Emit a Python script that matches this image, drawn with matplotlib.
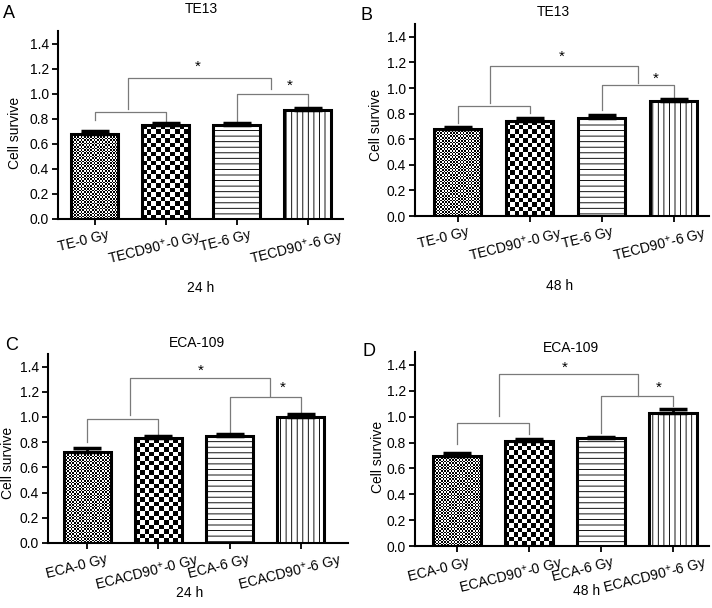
import numpy as np
import matplotlib
matplotlib.use("Agg")
import matplotlib.pyplot as plt
from matplotlib.transforms import ScaledTranslation

plt.rcParams['font.family'] = ['Liberation Sans', 'DejaVu Sans']
plt.rcParams['mathtext.fontset'] = 'custom'
plt.rcParams['mathtext.rm'] = 'Liberation Sans'
plt.rcParams['mathtext.it'] = 'Liberation Sans'
plt.rcParams['hatch.linewidth'] = 0.65
plt.rcParams['hatch.color'] = '#222222'

# Data
te_labels = ["TE-0 Gy", "TECD90$^{+}$-0 Gy", "TE-6 Gy", "TECD90$^{+}$-6 Gy"]
eca_labels = ["ECA-0 Gy", "ECACD90$^{+}$-0 Gy", "ECA-6 Gy", "ECACD90$^{+}$-6 Gy"]

te_24_mean = [0.680, 0.749, 0.749, 0.872]
te_24_err = [0.021, 0.019, 0.019, 0.013]
te_48_mean = [0.678, 0.743, 0.769, 0.899]
te_48_err = [0.018, 0.024, 0.018, 0.013]
eca_24_mean = [0.724, 0.832, 0.850, 0.997]
eca_24_err = [0.031, 0.015, 0.013, 0.027]
eca_48_mean = [0.694, 0.810, 0.834, 1.026]
eca_48_err = [0.028, 0.016, 0.010, 0.034]

# brackets: (x_left, x_right, top, left_leg_bottom, right_leg_bottom)
te_24_brackets = [(0, 1, 0.851, 0.79, 0.773), (2, 3, 0.995, 0.781, 0.899), (0.47, 2.49, 1.128, 0.877, 1.037)]
te_48_brackets = [(0, 1, 0.858, 0.727, 0.806), (2, 3, 1.027, 0.826, 0.930), (0.45, 2.5, 1.170, 0.879, 1.040)]
eca_24_brackets = [(0, 1, 0.984, 0.800, 0.853), (2, 3, 1.155, 0.868, 1.037), (0.6, 2.57, 1.308, 1.018, 1.163)]
eca_48_brackets = [(0, 1, 0.951, 0.785, 0.868), (2, 3, 1.161, 0.873, 1.083), (0.58, 2.51, 1.327, 1.005, 1.161)]

# asterisks: (x, y)
te_24_stars = [(1.45, 1.213), (2.75, 1.061)]
te_48_stars = [(1.45, 1.247), (2.75, 1.069)]
eca_24_stars = [(1.6, 1.368), (2.75, 1.229)]
eca_48_stars = [(1.5, 1.380), (2.8, 1.226)]

W, H = 712, 608
fig = plt.figure(figsize=(W / 100, H / 100), dpi=100)


def px_axes(x0, x1, y_top, y_bottom):
    return fig.add_axes([x0 / W, 1 - y_bottom / H, (x1 - x0) / W, (y_bottom - y_top) / H])


def checker_bar(ax, bar, xc, w, h, cell):
    fig.canvas.draw()
    p0 = ax.transData.transform((0, 0))
    p1 = ax.transData.transform((1, 1))
    pxx, pxy = p1[0] - p0[0], p1[1] - p0[1]
    cols = max(1, int(round(w * pxx / cell)))
    rows = max(1, int(round(h * pxy / cell)))
    board = np.indices((rows, cols)).sum(axis=0) % 2
    im = ax.imshow(board, cmap='gray', extent=(xc - w / 2, xc + w / 2, 0, h),
                   aspect='auto', interpolation='nearest', zorder=2, vmin=0, vmax=1)
    im.set_clip_path(bar)


def panel(rect, xlim, labels, means, errs, brackets, stars, title, letter, letter_pos,
          title_pos, time_label, time_pos, ylab_pos, label_shift=-11):
    ax = px_axes(*rect)
    x = np.arange(len(means))
    w = 0.66
    ax.set_xlim(*xlim)
    ax.set_ylim(0, 1.5)

    bars = []
    for i in range(len(means)):
        hatch = [None, None, '---', '|||'][i]
        fc = 'none' if i < 2 else 'white'
        b = ax.bar(x[i], means[i], width=w, facecolor=fc, edgecolor='black',
                   linewidth=2.2, hatch=hatch, zorder=3)[0]
        bars.append(b)
    checker_bar(ax, bars[0], x[0], w, means[0], 1.6)
    checker_bar(ax, bars[1], x[1], w, means[1], 4.5)
    ax.set_xlim(*xlim)
    ax.set_ylim(0, 1.5)

    ax.errorbar(x, means, yerr=[np.zeros(len(errs)), errs], fmt='none', ecolor='black',
                elinewidth=2, capsize=10, capthick=2.5, zorder=4)

    for xl, xr, top, lb, rb in brackets:
        ax.plot([xl, xl, xr, xr], [lb, top, top, rb], color='#7a7a7a', lw=0.9, zorder=1)
    for sx, sy in stars:
        ax.text(sx, sy, '*', ha='center', va='center', fontsize=11)

    ax.spines['top'].set_visible(False)
    ax.spines['right'].set_visible(False)
    ax.spines['left'].set_linewidth(1.5)
    ax.spines['bottom'].set_linewidth(1.5)
    ax.set_yticks(np.arange(0, 1.41, 0.2))
    ax.set_yticklabels([f"{v:.1f}" for v in np.arange(0, 1.41, 0.2)])
    ax.set_xticks(x)
    ax.set_xticklabels(labels, rotation=14, ha='center')
    ax.tick_params(axis='both', direction='out', length=4.5, width=1.3, labelsize=10, pad=2)
    shift = ScaledTranslation(label_shift / 100, 0, fig.dpi_scale_trans)
    for lab in ax.get_xticklabels():
        lab.set_transform(lab.get_transform() + shift)

    fig.text(ylab_pos[0] / W, 1 - ylab_pos[1] / H, 'Cell survive', rotation=90,
             ha='center', va='center', fontsize=10)
    fig.text(title_pos[0] / W, 1 - title_pos[1] / H, title, ha='center', va='center', fontsize=10)
    fig.text(letter_pos[0] / W, 1 - letter_pos[1] / H, letter, ha='center', va='center', fontsize=13)
    fig.text(time_pos[0] / W, 1 - time_pos[1] / H, time_label, ha='center', va='center', fontsize=10)
    return ax


panel((58, 343, 31, 219), (-0.52, 3.5), te_labels, te_24_mean, te_24_err, te_24_brackets,
      te_24_stars, 'TE13', 'A', (9, 14), (201, 9), '24 h', (201, 288), (15, 133))
panel((415, 709, 24, 216), (-0.59, 3.49), te_labels, te_48_mean, te_48_err, te_48_brackets,
      te_48_stars, 'TE13', 'B', (366, 15), (553, 12), '48 h', (560, 286), (376, 125), -14)
panel((48, 348, 354, 543), (-0.55, 3.66), eca_labels, eca_24_mean, eca_24_err, eca_24_brackets,
      eca_24_stars, 'ECA-109', 'C', (12, 345), (197, 343), '24 h', (190, 593), (8, 463))
panel((415, 709, 352, 546), (-0.58, 3.5), eca_labels, eca_48_mean, eca_48_err, eca_48_brackets,
      eca_48_stars, 'ECA-109', 'D', (369, 352), (571, 348), '48 h', (587, 591), (378, 457), -18)

fig.savefig('out.png', dpi=100)
